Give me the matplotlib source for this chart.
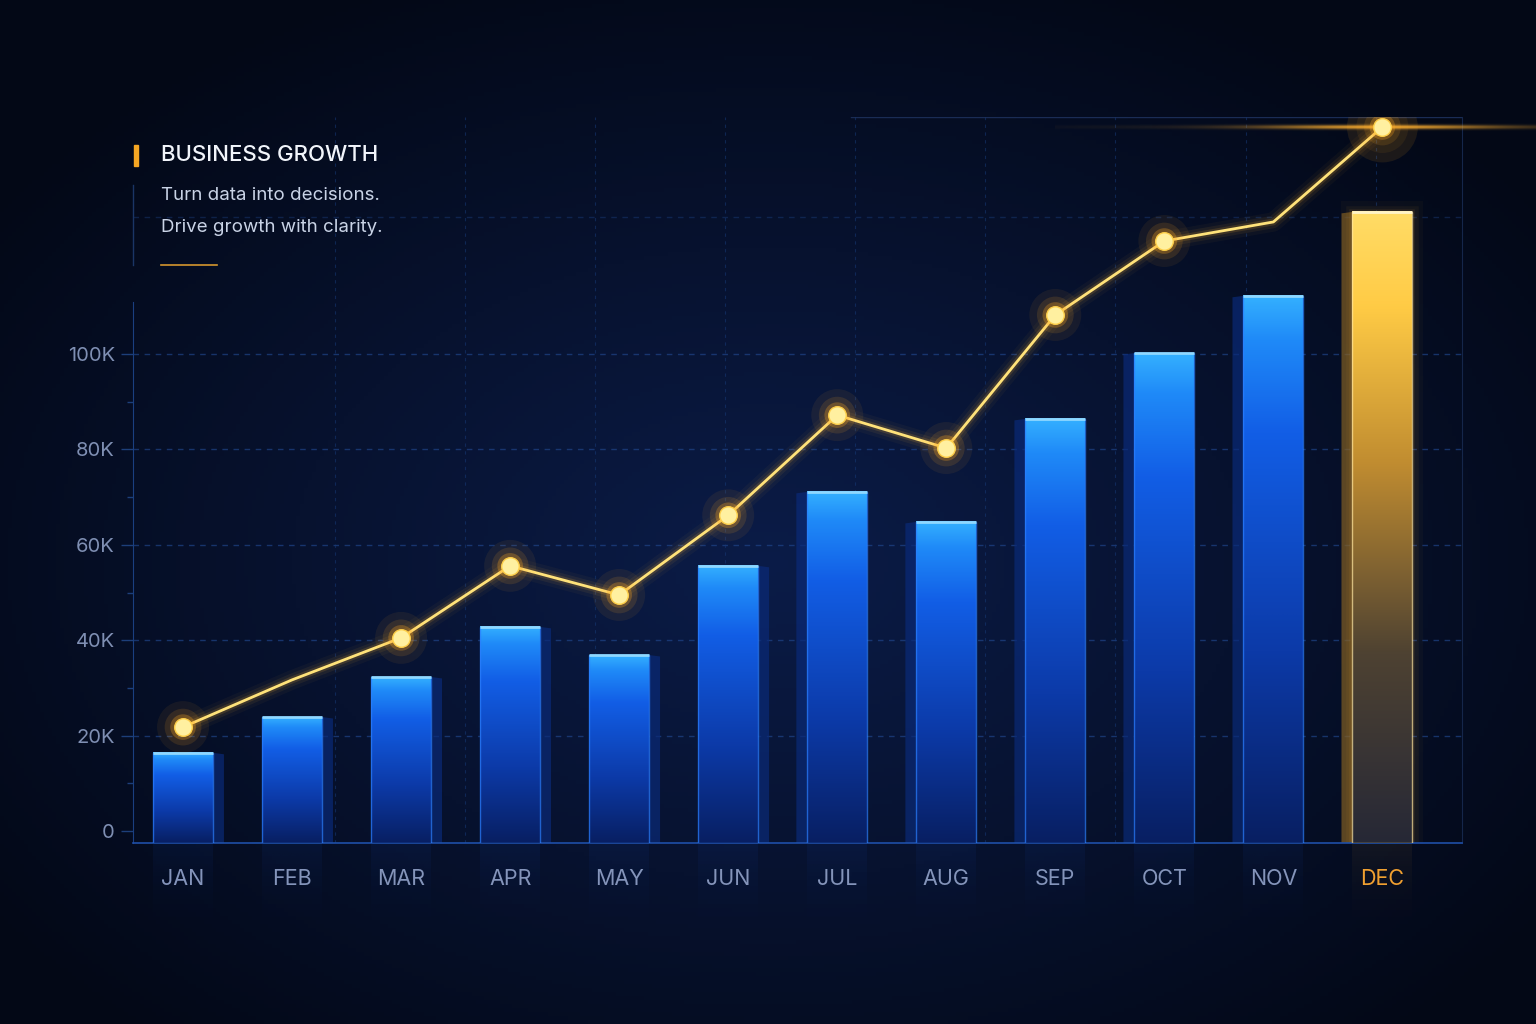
import matplotlib.pyplot as plt
import numpy as np
from matplotlib.colors import LinearSegmentedColormap, to_rgb
from matplotlib.patches import Rectangle, Polygon
from matplotlib.lines import Line2D

plt.rcParams['font.family'] = ['Inter', 'DejaVu Sans']

# data (values in thousands)
months = ["JAN", "FEB", "MAR", "APR", "MAY", "JUN",
          "JUL", "AUG", "SEP", "OCT", "NOV", "DEC"]
revenue_k = [16.4, 23.9, 32.3, 42.8, 36.9, 55.6, 71.1, 64.8, 86.4, 100.2, 112.2, 129.8]
trend_k = [21.8, 31.7, 40.5, 55.6, 49.5, 66.2, 87.2, 80.3, 108.2, 123.7, 127.7, 147.6]
trend_marked = [True, False, True, True, True, True, True, True, True, True, False, True]
y_ticks_k = [0, 20, 40, 60, 80, 100]
y_tick_labels = ["0", "20K", "40K", "60K", "80K", "100K"]
title = "BUSINESS GROWTH"
subtitle = ["Turn data into decisions.", "Drive growth with clarity."]

W, H = 1536, 1024
fig = plt.figure(figsize=(W / 100, H / 100), dpi=100)

# background: dark navy radial gradient
bg = fig.add_axes([0, 0, 1, 1], zorder=-10)
bg.axis('off')
gy, gx = np.mgrid[0:1:256j, 0:1:384j]
d = np.sqrt(((gx - 0.5) / 0.62) ** 2 + ((gy - 0.55) / 0.62) ** 2)
t = np.clip(1 - d, 0, 1) ** 1.0
edge = np.array([3, 8, 22]) / 255
center = np.array([11, 28, 72]) / 255
img = edge + (center - edge) * t[..., None]
bg.imshow(img, extent=[0, 1, 0, 1], aspect='auto', origin='upper')
bg.set_xlim(0, 1)
bg.set_ylim(0, 1)

# main axes
ax = fig.add_axes([133 / W, 1 - 843 / H, (1462 - 133) / W, (843 - 117) / H])
ax.patch.set_alpha(0)
ymin, ymax = -2.5, 149.7
xmin, xmax = -0.459, 11.73

blue_cmap = LinearSegmentedColormap.from_list(
    'bars', [(0, '#081f62'), (0.35, '#0c3aa8'), (0.75, '#125ee6'), (0.92, '#1f8af8'), (1, '#34b0ff')])
gold_cmap = LinearSegmentedColormap.from_list(
    'gold', [(0, '#262836'), (0.3, '#4e4232'), (0.6, '#c08c30'), (0.85, '#ffcb45'), (1, '#ffdc66')])

w = 0.55
sw = 0.1
x = np.arange(len(months))
grad = np.linspace(0, 1, 256).reshape(-1, 1)
last = len(months) - 1

for i, v in enumerate(revenue_k):
    x0 = i - w / 2
    is_last = i == last
    cmap = gold_cmap if is_last else blue_cmap
    # side face (perspective: right side on left half, left side on right half)
    if i <= 5:
        side = [(x0 + w, ymin), (x0 + w + sw, ymin), (x0 + w + sw, v - 0.3), (x0 + w, v)]
    else:
        side = [(x0, ymin), (x0 - sw, ymin), (x0 - sw, v - 0.3), (x0, v)]
    side_col = '#7a5a22' if is_last else '#0a2a78'
    ax.add_patch(Polygon(side, closed=True, facecolor=side_col, alpha=0.7,
                         edgecolor='none', zorder=2))
    if is_last:
        for lw, a in [(16, 0.03), (9, 0.05), (4, 0.08)]:
            ax.add_patch(Rectangle((x0, ymin), w, v - ymin, fill=False,
                                   edgecolor='#ffb030', lw=lw, alpha=a, zorder=2))
    ax.imshow(grad, extent=[x0, x0 + w, ymin, v], origin='lower', aspect='auto',
              cmap=cmap, zorder=3, interpolation='bicubic')
    ec = '#ffe6a0' if is_last else '#2b7fff'
    ax.add_patch(Rectangle((x0, ymin), w, v - ymin, fill=False, edgecolor=ec,
                           lw=1.0, alpha=0.7, zorder=4))
    ax.plot([x0, x0 + w], [v, v], color='#fff4c8' if is_last else '#8fd8ff',
            lw=2, zorder=5, solid_capstyle='butt')
    # faint reflection below the floor
    refl = np.zeros((64, 2, 4))
    refl[..., :3] = to_rgb('#b08030' if is_last else '#1a55d0')
    refl[..., 3] = np.linspace(0.0, 1.0, 64)[:, None] ** 2 * 0.09
    ax.imshow(refl, extent=[x0, x0 + w, ymin - 22, ymin], origin='lower',
              aspect='auto', zorder=1, clip_on=False, interpolation='bicubic')

# trend line with glow
for lw, a in [(14, 0.04), (9, 0.07), (5, 0.14)]:
    ax.plot(x, trend_k, color='#ffb52e', lw=lw, alpha=a, zorder=6,
            solid_capstyle='round', solid_joinstyle='round')
ax.plot(x, trend_k, color='#ffe27a', lw=2.0, zorder=7, solid_joinstyle='round')

mx = [xi for xi, m in zip(x, trend_marked) if m]
my = [yi for yi, m in zip(trend_k, trend_marked) if m]
for s, a in [(1400, 0.07), (700, 0.13), (340, 0.28)]:
    ax.scatter(mx, my, s=s, color='#ffa820', alpha=a, edgecolors='none', zorder=8)
ax.scatter(mx, my, s=160, color='#fff0a0', edgecolors='#ffd04a', linewidths=1,
           zorder=9)
# brighter halo + lens streak on the last point
ax.scatter([last], [trend_k[last]], s=2600, color='#ffa820', alpha=0.1,
           edgecolors='none', zorder=8)
sx = np.linspace(-1, 1, 600)
sy = np.linspace(-1, 1, 41)
streak = np.zeros((41, 600, 4))
streak[..., :3] = to_rgb('#ffb030')
streak[..., 3] = (np.exp(-(sx[None, :] / 0.35) ** 2) * 0.85 + 0.15 * np.exp(-(sx[None, :] / 0.9) ** 2)) \
    * np.exp(-(sy[:, None] / 0.18) ** 2) * 0.9
ax.imshow(streak, extent=[last - 3.0, last + 3.0, trend_k[last] - 2.5, trend_k[last] + 2.5],
          origin='lower', aspect='auto', zorder=8, clip_on=False)

# grid
for yv in y_ticks_k[1:]:
    ax.axhline(yv, color='#1f4488', lw=1, ls=(0, (4, 4)), alpha=0.7, zorder=0.5)
ax.axhline(128.7, color='#1f4488', lw=1, ls=(0, (4, 4)), alpha=0.4, zorder=0.5)
ax.axhline(ymax, xmin=0.54, color='#1a2c55', lw=1, zorder=0.5)
for xv in np.arange(1.394, xmax, 1.193):
    ax.axvline(xv, color='#173a78', lw=0.8, ls=(0, (3, 4)), alpha=0.55, zorder=0.5)

ax.set_xlim(xmin, xmax)
ax.set_ylim(ymin, ymax)

ax.set_yticks(y_ticks_k)
ax.set_yticklabels(y_tick_labels)
ax.set_yticks([10, 30, 50, 70, 90], minor=True)
ax.tick_params(axis='y', which='major', length=9, width=1, color='#1d3f7a',
               labelcolor='#7f8fb3', labelsize=14.5, pad=4)
ax.tick_params(axis='y', which='minor', length=4, width=1, color='#1d3f7a')

ax.set_xticks(x)
ax.set_xticklabels(months)
ax.tick_params(axis='x', length=0, labelsize=15.5, labelcolor='#8494ba', pad=19)
ax.get_xticklabels()[-1].set_color('#f0a030')

ax.spines['left'].set_color('#1a3f80')
ax.spines['left'].set_bounds(ymin, 111)
ax.spines['bottom'].set_color('#1f4fa8')
ax.spines['bottom'].set_linewidth(1.2)
ax.spines['top'].set_visible(False)
ax.spines['right'].set_color('#15264a')

# header
fig.add_artist(Rectangle((134 / W, 1 - 166 / H), 4 / W, 21 / H,
                         transform=fig.transFigure, color='#f5a623'))
fig.add_artist(Line2D([133 / W, 133 / W], [1 - 185 / H, 1 - 265 / H],
                      transform=fig.transFigure, color='#1a3566', lw=1))
fig.add_artist(Line2D([161 / W, 217 / W], [1 - 265 / H, 1 - 265 / H],
                      transform=fig.transFigure, color='#d4962e', lw=1.2))
fig.text(161 / W, 1 - 155 / H, title, fontsize=16, color='#f2f5fb',
         va='center', ha='left', fontweight='medium')
for k, line in enumerate(subtitle):
    fig.text(161 / W, 1 - (195 + 33 * k) / H, line, fontsize=13.5,
             color='#c9d3e6', va='center', ha='left')

fig.savefig('out.png', dpi=100)
